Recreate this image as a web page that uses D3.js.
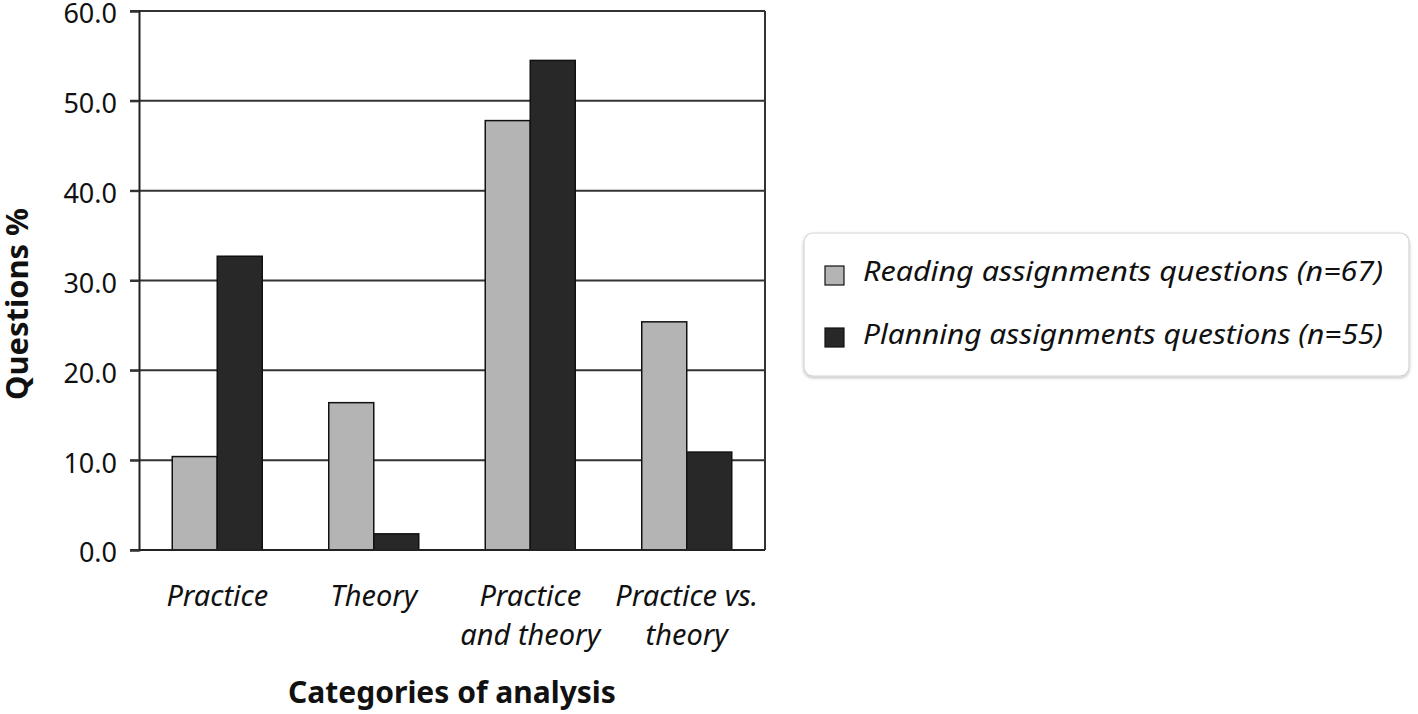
<!DOCTYPE html>
<html>
<head>
<meta charset="utf-8">
<script src="https://cdn.jsdelivr.net/npm/d3@7"></script>
<style>
  body { margin: 0; background: #fff; }
  svg text { font-family: "Noto Sans", "Open Sans", sans-serif; fill: #111; }
</style>
</head>
<body>
<script>
var categories = [["Practice"], ["Theory"], ["Practice", "and theory"], ["Practice vs.", "theory"]];
var seriesNames = ["Reading  assignments questions (n=67)", "Planning assignments questions (n=55)"];
var reading = [10.4, 16.4, 47.8, 25.4];
var planning = [32.7, 1.8, 54.5, 10.9];
var yTicks = [0, 10, 20, 30, 40, 50, 60];
var colors = ["#b4b4b4", "#282828"];

var width = 1418, height = 714;
var plotL = 139, plotR = 765, plotT = 11, plotB = 550;

var svg = d3.select("body").append("svg")
    .attr("width", width)
    .attr("height", height)

var x = d3.scaleBand().domain(d3.range(categories.length)).range([plotL, plotR])
var y = d3.scaleLinear().domain([0, 60]).range([plotB, plotT])
var bw = 45;

// gridlines
svg.append("g").selectAll("line")
    .data(yTicks)
    .enter().append("line")
    .attr("x1", plotL - 9).attr("x2", plotR)
    .attr("y1", function(d) { return y(d) }).attr("y2", function(d) { return y(d) })
    .attr("stroke", "#333").attr("stroke-width", 2)

// right border
svg.append("line")
    .attr("x1", plotR).attr("x2", plotR).attr("y1", plotT).attr("y2", plotB)
    .attr("stroke", "#333").attr("stroke-width", 2)

var series = [reading, planning];
series.forEach(function(vals, s) {
    svg.append("g").selectAll("rect")
        .data(vals)
        .enter().append("rect")
        .attr("x", function(d, i) { return x(i) + x.bandwidth() / 2 - bw + s * bw })
        .attr("width", bw)
        .attr("y", function(d) { return y(d) })
        .attr("height", function(d) { return y(0) - y(d) })
        .attr("fill", colors[s])
        .attr("stroke", "#111").attr("stroke-width", 1.5)
})

// y axis
var yAxis = svg.append("g")
    .attr("transform", "translate(" + plotL + ",0)")
    .call(d3.axisLeft(y).tickValues(yTicks).tickFormat(d3.format(".1f")).tickSize(9).tickPadding(13))
yAxis.select(".domain").attr("stroke", "#222").attr("stroke-width", 2)
yAxis.selectAll(".tick line").attr("stroke", "#333").attr("stroke-width", 2)
yAxis.selectAll("text").attr("font-size", 27).attr("dy", "0.44em").attr("font-family", "Noto Sans").attr("fill", "#111")

// x axis
svg.append("line")
    .attr("x1", plotL).attr("x2", plotR).attr("y1", plotB).attr("y2", plotB)
    .attr("stroke", "#222").attr("stroke-width", 2)

var xl = svg.append("g").selectAll("text")
    .data(categories)
    .enter().append("text")
    .attr("text-anchor", "middle")
    .attr("font-size", 29)
    .attr("font-style", "italic")
xl.each(function(d, i) {
    var t = d3.select(this);
    d.forEach(function(line, j) {
        t.append("tspan")
            .attr("x", x(i) + x.bandwidth() / 2)
            .attr("y", 606 + j * 39)
            .text(line)
    })
})

svg.append("text")
    .attr("x", 452).attr("y", 703)
    .attr("text-anchor", "middle")
    .attr("font-size", 30).attr("font-weight", "bold")
    .text("Categories of analysis")

svg.append("text")
    .attr("transform", "translate(28,304) rotate(-90)")
    .attr("text-anchor", "middle")
    .attr("font-size", 30).attr("font-weight", "bold")
    .attr("textLength", 192).attr("lengthAdjust", "spacingAndGlyphs")
    .text("Questions %")

// legend
var defs = svg.append("defs");
var f = defs.append("filter").attr("id", "sh").attr("x", "-5%").attr("y", "-10%").attr("width", "110%").attr("height", "125%");
f.append("feDropShadow").attr("dx", 0).attr("dy", 1.5).attr("stdDeviation", 1.5).attr("flood-color", "#000").attr("flood-opacity", 0.25);

var lg = svg.append("g").attr("transform", "translate(804,233)")
lg.append("rect")
    .attr("width", 605).attr("height", 143).attr("rx", 9)
    .attr("fill", "#fff").attr("stroke", "#d4d4d4").attr("stroke-width", 1.2)
    .attr("filter", "url(#sh)")
seriesNames.forEach(function(name, s) {
    lg.append("rect")
        .attr("x", 21).attr("y", 33 + s * 62)
        .attr("width", 19).attr("height", 19)
        .attr("fill", colors[s]).attr("stroke", "#111").attr("stroke-width", 1.2)
    lg.append("text")
        .attr("x", 59).attr("y", 48 + s * 63)
        .attr("font-size", 28).attr("font-style", "italic")
        .attr("textLength", 520).attr("lengthAdjust", "spacingAndGlyphs")
        .text(name)
})
</script>
</body>
</html>
